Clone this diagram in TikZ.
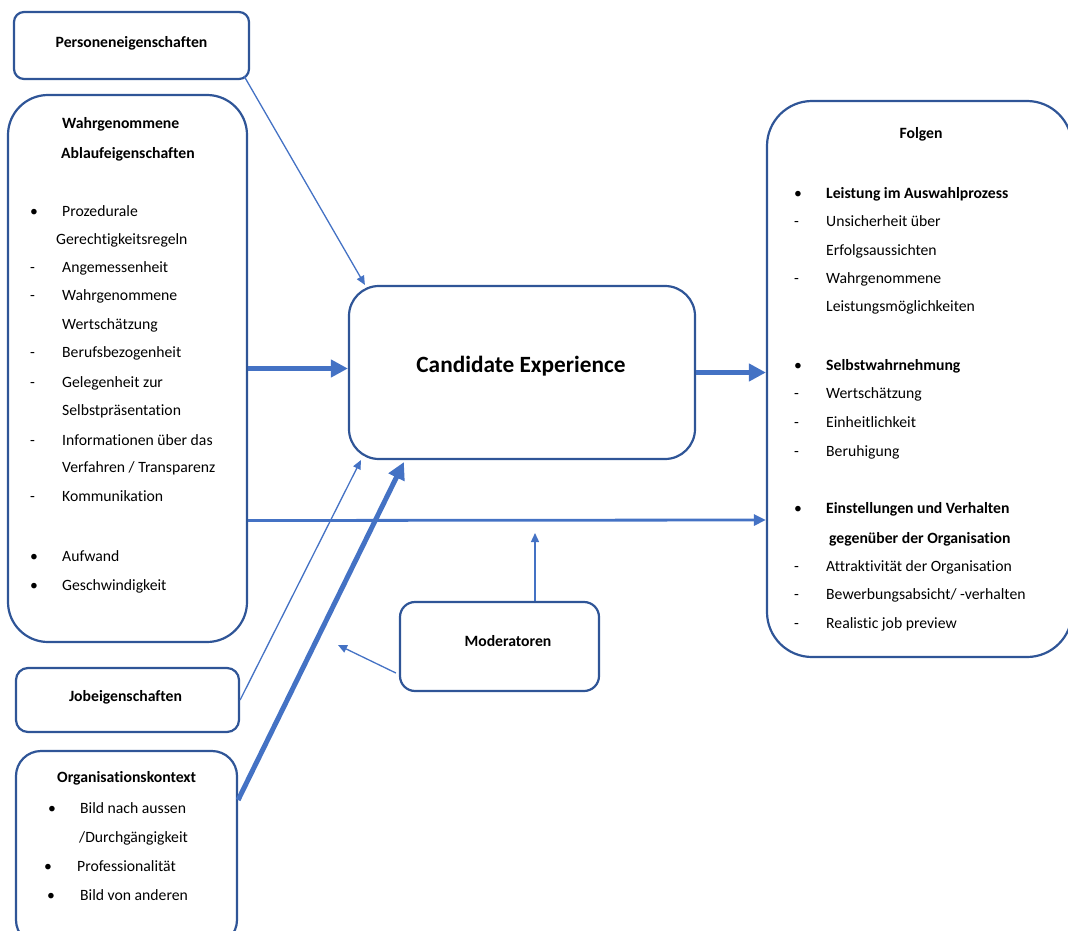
\documentclass[tikz,border=0pt]{standalone}
\usepackage{fontspec}
\setmainfont[Ligatures={NoCommon}]{Carlito}
\usepackage{tikz}
\usetikzlibrary{arrows.meta}
\definecolor{boxblue}{HTML}{2F5597}
\definecolor{arrblue}{HTML}{4472C4}
\newcommand{\itemdot}[1]{\makebox[32pt][l]{\textbullet}#1}
\newcommand{\itemdash}[1]{\makebox[32pt][l]{-}#1}
\tikzset{
  box/.style={draw=boxblue, line width=2.2pt, rounded corners=#1, inner sep=0pt},
  txt/.style={anchor=west, inner sep=0pt, font=\fontsize{15.7}{18}\selectfont},
  ttl/.style={inner sep=0pt, font=\bfseries\fontsize{15.7}{18}\selectfont},
  thinarr/.style={draw=arrblue, line width=1.3pt, -{Triangle[length=9pt,width=8pt]}},
  midarr/.style={draw=arrblue, line width=2.8pt, -{Triangle[length=12pt,width=11pt]}},
  fatarr/.style={draw=arrblue, line width=5pt, -{Triangle[length=17pt,width=17pt]}}
}
\begin{document}
\begin{tikzpicture}[x=1pt, y=-1pt]
\useasboundingbox (0,0) rectangle (1068,931);
% boxes
\node[box=10pt, minimum width=235pt, minimum height=67pt] (person) at (131.5,45.5){};
\node[box=40pt, minimum width=239pt, minimum height=547pt] (ablauf) at (127.5,368.5){};
\node[box=30pt, minimum width=346pt, minimum height=173pt] (ce) at (522,372.5){};
\node[box=45pt, minimum width=305pt, minimum height=556pt] (folgen) at (919.5,379){};
\node[box=15pt, minimum width=199pt, minimum height=89pt] (mod) at (499.5,646.5){};
\node[box=12pt, minimum width=223pt, minimum height=64pt] (job) at (127.5,700){};
\node[box=25pt, minimum width=221pt, minimum height=194pt] (org) at (126.5,848){};
% titles
\node[ttl] (personT) at (131.5,43){Personeneigenschaften};
\node[ttl] (ceT) at (521,366){\fontsize{23.3}{28}\selectfont Candidate Experience};
\node[ttl] (modT) at (508,641){Moderatoren};
\node[ttl] (jobT) at (125.5,697){Jobeigenschaften};
% Ablaufeigenschaften
\node[ttl, anchor=west] (a1) at (62,124){Wahrgenommene};
\node[ttl, anchor=west] (a2) at (61,154){Ablaufeigenschaften};
\node[txt] (a3) at (30,211){\itemdot{Prozedurale}};
\node[txt] (a4) at (56,240){Gerechtigkeitsregeln};
\node[txt] (a5) at (30,268){\itemdash{Angemessenheit}};
\node[txt] (a6) at (30,296){\itemdash{Wahrgenommene}};
\node[txt] (a7) at (62,325){Wertschätzung};
\node[txt] (a8) at (30,353){\itemdash{Berufsbezogenheit}};
\node[txt] (a9) at (30,383){\itemdash{Gelegenheit zur}};
\node[txt] (a10) at (62,411){Selbstpräsentation};
\node[txt] (a11) at (30,440){\itemdash{Informationen über das}};
\node[txt] (a12) at (62,468){Verfahren / Transparenz};
\node[txt] (a13) at (30,496){\itemdash{Kommunikation}};
\node[txt] (a14) at (30,556){\itemdot{Aufwand}};
\node[txt] (a15) at (30,586){\itemdot{Geschwindigkeit}};
% Folgen
\node[ttl] (f1) at (921,134){Folgen};
\node[txt] (f2) at (794,194){\itemdot{\bfseries Leistung im Auswahlprozess}};
\node[txt] (f3) at (794,221){\itemdash{Unsicherheit über}};
\node[txt] (f4) at (826,251){Erfolgsaussichten};
\node[txt] (f5) at (794,279){\itemdash{Wahrgenommene}};
\node[txt] (f6) at (826,307){Leistungsmöglichkeiten};
\node[txt] (f7) at (794,366){\itemdot{\bfseries Selbstwahrnehmung}};
\node[txt] (f8) at (794,394){\itemdash{Wertschätzung}};
\node[txt] (f9) at (794,422){\itemdash{Einheitlichkeit}};
\node[txt] (f10) at (794,452){\itemdash{Beruhigung}};
\node[txt] (f11) at (794,509){\itemdot{\bfseries Einstellungen und Verhalten}};
\node[txt] (f12) at (829,539){\bfseries gegenüber der Organisation};
\node[txt] (f13) at (794,567){\itemdash{Attraktivität der Organisation}};
\node[txt] (f14) at (794,595){\itemdash{Bewerbungsabsicht/ -verhalten}};
\node[txt] (f15) at (794,624){\itemdash{Realistic job preview}};
% Organisationskontext
\node[ttl, anchor=west] (o1) at (57,778){Organisationskontext};
\node[txt] (o2) at (48,808){\itemdot{Bild nach aussen}};
\node[txt] (o3) at (79,838){/Durchgängigkeit};
\node[txt] (o4) at (44,866){\makebox[33pt][l]{\textbullet}Professionalität};
\node[txt] (o5) at (47,895){\makebox[33pt][l]{\textbullet}Bild von anderen};
% arrows
\coordinate (modUp) at (535,533);
\coordinate (modLeft) at (338,645);
\draw[thinarr] ([xshift=-6pt,yshift=4pt]person.south east) -- ([xshift=17pt]ce.north west);
\draw[fatarr] (ablauf.east) -- (ablauf.east -| ce.west);
\draw[fatarr] (ce.east) -- (ce.east -| folgen.west);
\draw[midarr] ([yshift=-152pt]ablauf.east) -- ([yshift=-141pt]folgen.west);
\draw[thinarr] (job.east) -- ([xshift=13pt]ce.south west);
\draw[fatarr] ([yshift=48pt]org.east) -- ([xshift=56pt,yshift=-2pt]ce.south west);
\draw[thinarr] ([xshift=35.5pt]mod.north) -- (modUp);
\draw[thinarr] ([xshift=-3pt,yshift=-26.5pt]mod.west) -- (modLeft);
\end{tikzpicture}
\end{document}
